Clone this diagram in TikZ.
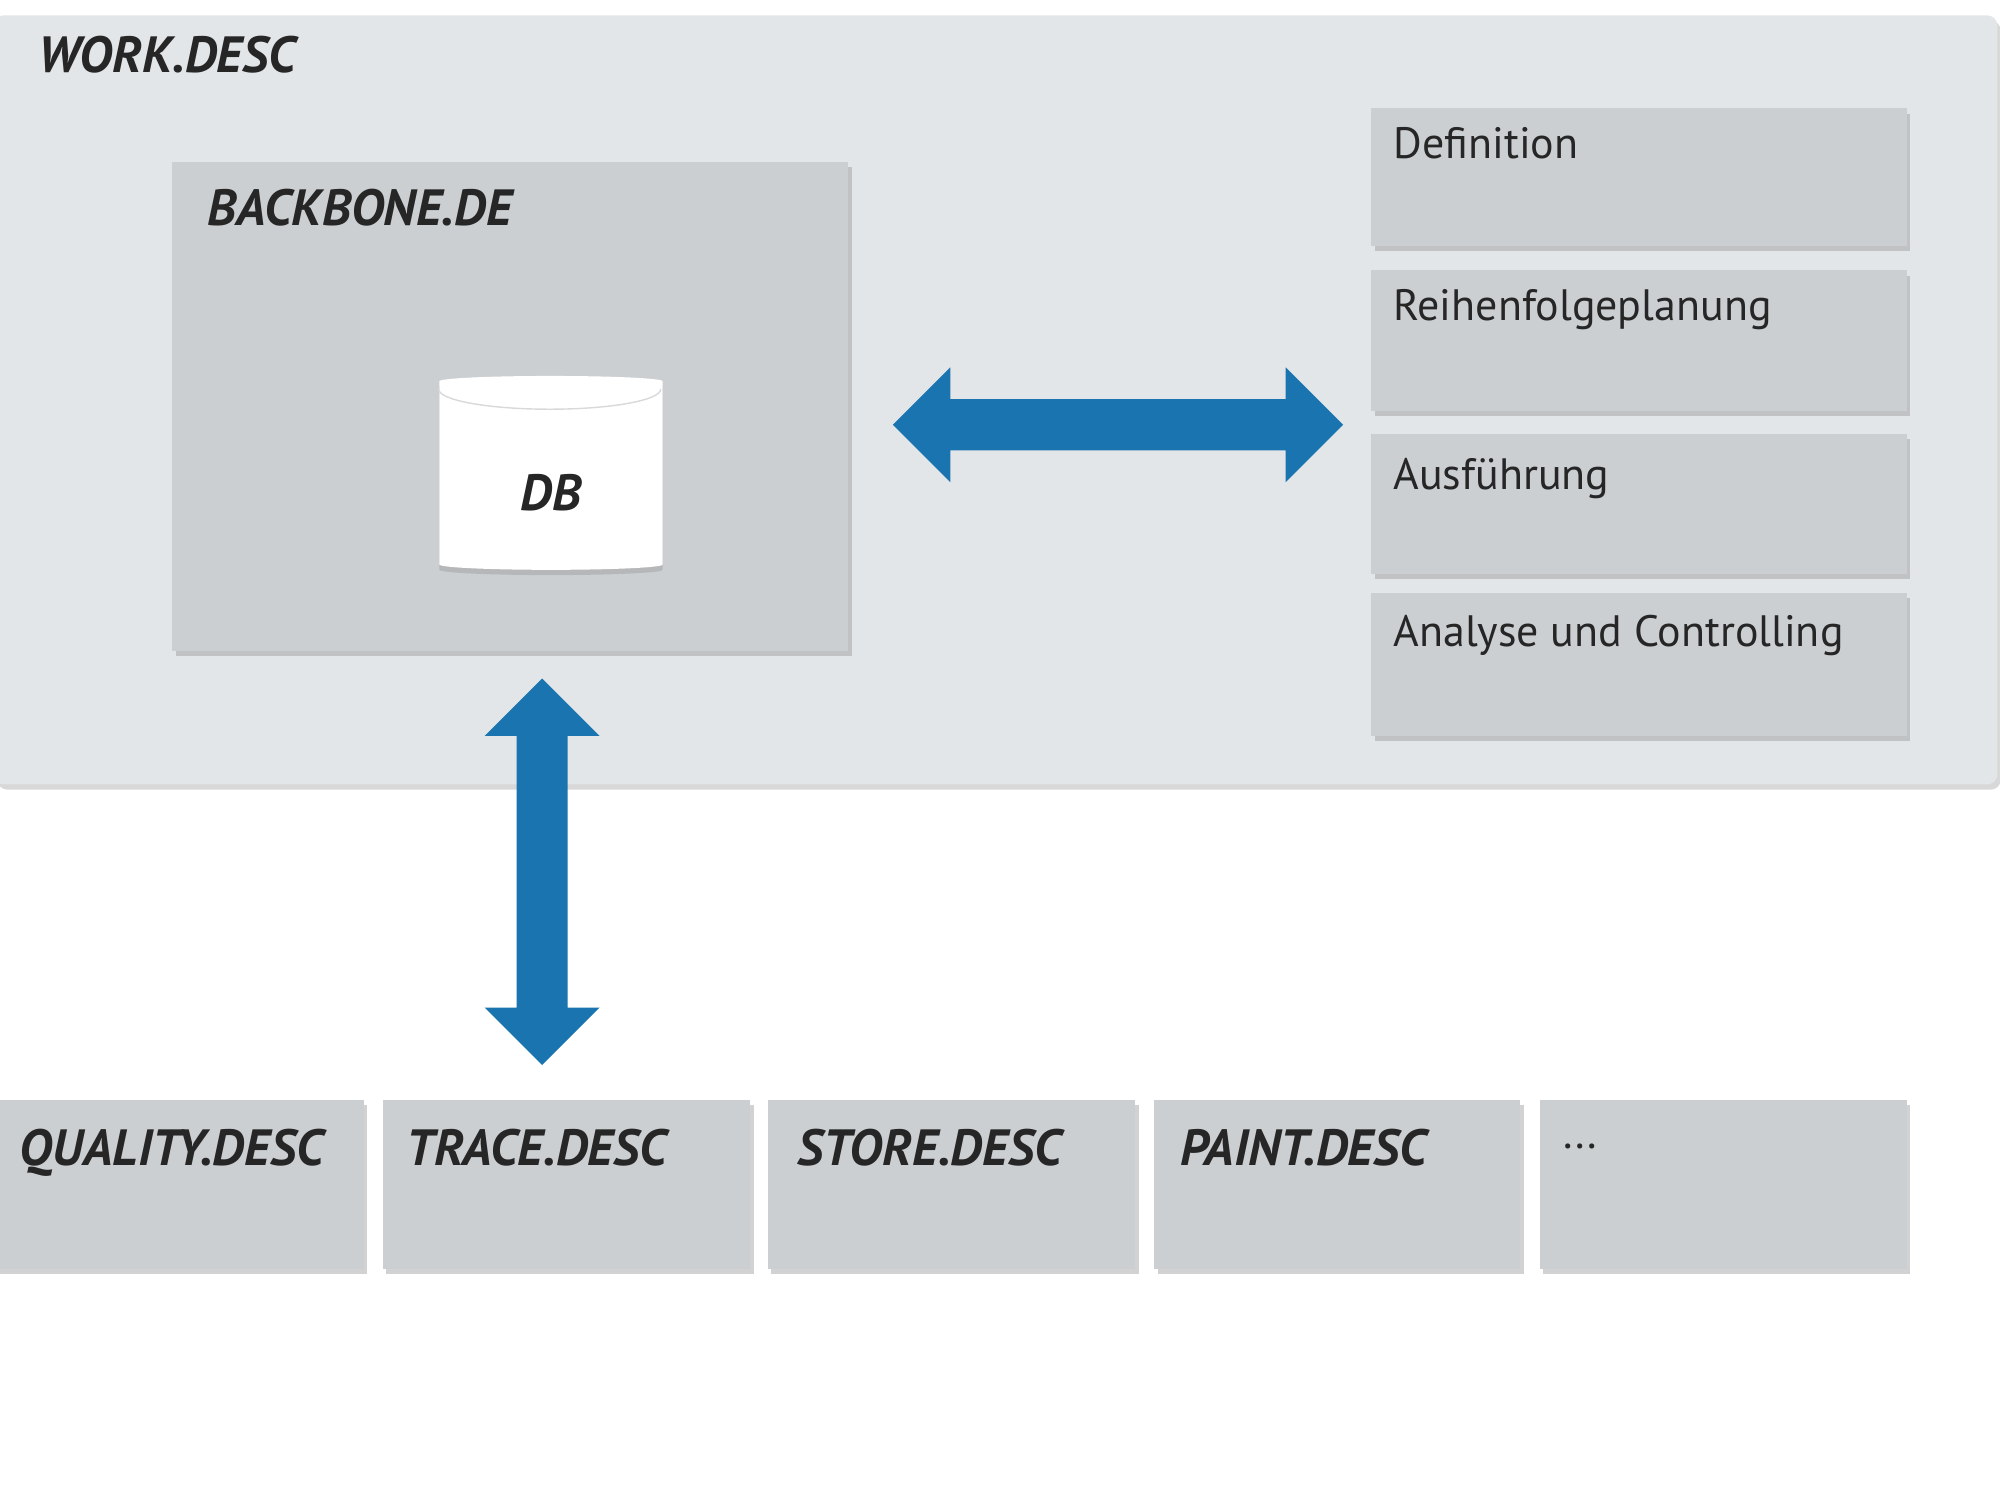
\documentclass[tikz,border=0pt]{standalone}
\usepackage{fontspec}
\setmainfont{PT Sans}
\usetikzlibrary{shapes.geometric,shadows}
\definecolor{outer}{HTML}{E3E6E8}
\definecolor{inner}{HTML}{CCCFD2}
\definecolor{arrowblue}{HTML}{1A74B0}
\begin{document}
\begin{tikzpicture}[x=0.012755cm,y=-0.012755cm,
  box/.style={fill=inner,draw=none,drop shadow={shadow xshift=1pt,shadow yshift=-1.5pt,opacity=0.35}},
  lbl/.style={anchor=north west,inner sep=0pt,font=\fontsize{12.5}{15}\selectfont,text=black!85},
  ttl/.style={anchor=north west,inner sep=0pt,font=\fontsize{14.5}{18}\selectfont\bfseries\itshape,text=black!85},
  arr/.style={fill=arrowblue,draw=none}]
\useasboundingbox (0,0) rectangle (1568,1176);
\fill[white] (0,0) rectangle (1568,1176);
% outer
\path[fill=outer,drop shadow={shadow xshift=1pt,shadow yshift=-1.5pt,opacity=0.3},rounded corners=3] (-5,12) rectangle (1566,615);
\node[ttl] (work) at (30,28) {WORK.DESC};
% backbone
\path[box] (135,127) rectangle (665,510);
\node[ttl] (bb) at (162,148) {BACKBONE.DE};
\node[cylinder,shape border rotate=90,aspect=0.45,minimum width=175*0.012755cm,minimum height=152*0.012755cm,fill=white,draw=none,
  drop shadow={shadow xshift=0pt,shadow yshift=-1.5pt,opacity=0.3},font=\fontsize{14.5}{18}\selectfont\bfseries\itshape,text=black!85] (db) at (432,374) {};
\node[font=\fontsize{14.5}{18}\selectfont\bfseries\itshape,text=black!85] (dbl) at (432,386) {DB};
\draw[black!15] ([yshift=-0.08cm]db.before top) arc[start angle=180,end angle=360,x radius=87*0.012755cm,y radius=0.2cm];
% right boxes
\path[box] (1075,85) rectangle (1495,193);
\path[box] (1075,212) rectangle (1495,322);
\path[box] (1075,340) rectangle (1495,450);
\path[box] (1075,465) rectangle (1495,577);
\node[lbl] (d1) at (1092,99) {Definition};
\node[lbl] (d2) at (1092,226) {Reihenfolgeplanung};
\node[lbl] (d3) at (1092,359) {Ausführung};
\node[lbl] (d4) at (1092,482) {Analyse und Controlling};
% horizontal arrow
\fill[arr] (700,333) -- (745,288) -- (745,313) -- (1008,313) -- (1008,288) -- (1053,333) -- (1008,378) -- (1008,353) -- (745,353) -- (745,378) -- cycle;
% vertical arrow
\fill[arr] (425,532) -- (470,577) -- (445,577) -- (445,790) -- (470,790) -- (425,835) -- (380,790) -- (405,790) -- (405,577) -- (380,577) -- cycle;
% bottom boxes
\path[box] (-5,862) rectangle (285,995);
\path[box] (300,862) rectangle (588,995);
\path[box] (602,862) rectangle (890,995);
\path[box] (905,862) rectangle (1192,995);
\path[box] (1207,862) rectangle (1495,995);
\node[ttl] (q) at (15,885) {QUALITY.DESC};
\node[ttl] (t) at (318,885) {TRACE.DESC};
\node[ttl] (s) at (625,885) {STORE.DESC};
\node[ttl] (p) at (925,885) {PAINT.DESC};
\node[lbl] (e) at (1225,896) {...};
\end{tikzpicture}
\end{document}
